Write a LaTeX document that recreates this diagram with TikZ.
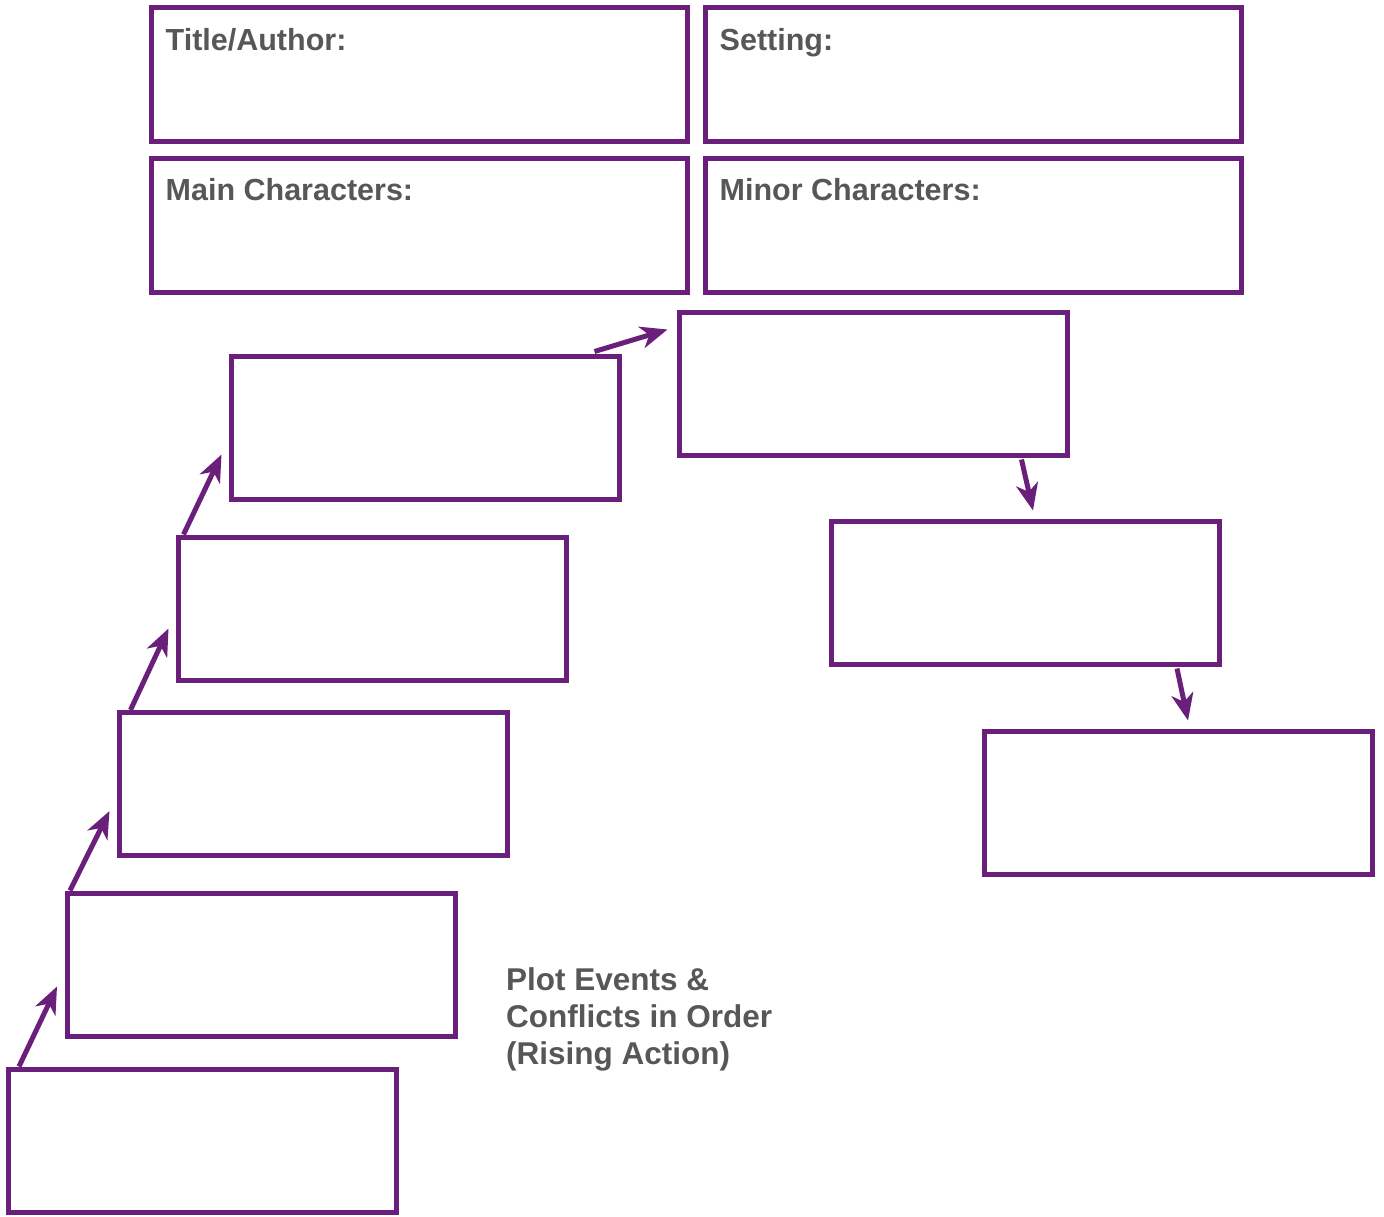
\documentclass[tikz,border=0pt]{standalone}
\usepackage{fontspec}
\setmainfont{Liberation Sans}
\usetikzlibrary{arrows.meta,calc}
\definecolor{plum}{RGB}{106,31,122}
\definecolor{ink}{RGB}{87,87,89}
\tikzset{
  frame/.style={draw=plum, line width=5pt, rectangle, inner sep=0pt},
  infobox/.style={frame, minimum width=536pt, minimum height=134pt},
  eventbox/.style={frame, minimum width=388pt, minimum height=143pt},
  lbl/.style={text=ink, font=\fontsize{30.5}{37}\selectfont\bfseries, inner sep=0pt, anchor=base west},
  note/.style={text=ink, font=\fontsize{31.5}{37}\selectfont\bfseries, inner sep=0pt, anchor=base west},
  flow/.style={draw=plum, line width=5pt, -{Stealth[length=27pt,width=22pt,inset=8pt]}}
}
\begin{document}
\begin{tikzpicture}[x=1pt,y=-1pt]
\useasboundingbox (0,0) rectangle (1384,1216);

% story information boxes
\node[infobox] (title)   at (419,74.5) {};
\node[infobox] (setting) at (973,74.5) {};
\node[infobox] (main)    at (419,225)  {};
\node[infobox] (minor)   at (973,225)  {};

\node[lbl] (titlelbl)   at ($(title.north west)+(17,45)$)   {Title/Author:};
\node[lbl] (settinglbl) at ($(setting.north west)+(17,45)$) {Setting:};
\node[lbl] (mainlbl)    at ($(main.north west)+(17,45)$)    {Main Characters:};
\node[lbl] (minorlbl)   at ($(minor.north west)+(17,45)$)   {Minor Characters:};

% plot event boxes, climbing then falling
\node[eventbox] (e1) at (202.5,1140.5) {};
\node[eventbox] (e2) at (261.5,964.5)  {};
\node[eventbox] (e3) at (313,784)      {};
\node[eventbox] (e4) at (372,608.5)    {};
\node[eventbox] (e5) at (425,427.5)    {};
\node[eventbox] (e6) at (873,383.5)    {};
\node[eventbox] (e7) at (1025.5,592.5) {};
\node[eventbox] (e8) at (1178.5,802.5) {};

% connectors between events
\draw[flow] ($(e1.north west)+(13,0)$)  -- ($(e2.south west)+(-8,-52)$);
\draw[flow] ($(e2.north west)+(5,0)$)   -- ($(e3.south west)+(-7,-47)$);
\draw[flow] ($(e3.north west)+(14,0)$)  -- ($(e4.south west)+(-7,-54)$);
\draw[flow] ($(e4.north west)+(8,0)$)   -- ($(e5.south west)+(-7,-47)$);
\draw[flow] ($(e5.north east)+(-27,-2)$) -- ($(e6.north west)+(-9,20)$);
\draw[flow] ($(e6.south east)+(-48,2)$) -- ($(e7.north west)+(204,-8)$);
\draw[flow] ($(e7.south east)+(-45,2)$) -- ($(e8.north west)+(206,-8)$);

% caption
\node[note] (cap1) at (506,990) {Plot Events \&};
\node[note] (cap2) at ($(cap1.base west)+(0,37)$) {Conflicts in Order};
\node[note] (cap3) at ($(cap2.base west)+(0,37)$) {(Rising Action)};
\end{tikzpicture}
\end{document}
